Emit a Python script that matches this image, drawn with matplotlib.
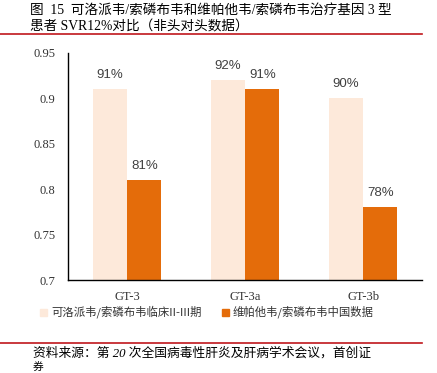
import numpy as np
import matplotlib
matplotlib.use("Agg")
import matplotlib.pyplot as plt
from matplotlib.patches import Rectangle
from matplotlib.lines import Line2D

groups = ["GT-3", "GT-3a", "GT-3b"]
clinical = [0.91, 0.92, 0.90]
china = [0.81, 0.91, 0.78]
labels_clinical = ["91%", "92%", "90%"]
labels_china = ["81%", "91%", "78%"]
yticks = [0.7, 0.75, 0.8, 0.85, 0.9, 0.95]
ytick_labels = ["0.7", "0.75", "0.8", "0.85", "0.9", "0.95"]
series_names = ["可洛派韦/索磷布韦临床II-III期", "维帕他韦/索磷布韦中国数据"]

c_light = "#FDE9DA"
c_orange = "#E46C0A"
red = "#C0161C"
serif_cjk = ["Liberation Serif", "Noto Sans CJK SC"]
sans_cjk = ["Noto Sans CJK SC", "DejaVu Sans"]

fig = plt.figure(figsize=(4.37, 3.73), dpi=100)
ax = fig.add_axes([0.156, 0.249, 0.81, 0.609])

x = np.arange(len(groups))
w = 0.29
ax.bar(x - w/2, clinical, w, color=c_light)
ax.bar(x + w/2, china, w, color=c_orange)
for xi, v, s in zip(x, clinical, labels_clinical):
    ax.text(xi - w/2, v + 0.009, s, ha="center", va="bottom", fontsize=9.5,
            color="#404040", family="Liberation Sans")
for xi, v, s in zip(x, china, labels_china):
    ax.text(xi + w/2, v + 0.009, s, ha="center", va="bottom", fontsize=9.5,
            color="#404040", family="Liberation Sans")

ax.set_xlim(-0.5, 2.5)
ax.set_ylim(0.7, 0.95)
ax.set_yticks(yticks)
ax.set_yticklabels(ytick_labels, family="Liberation Serif", fontsize=9, color="#333333")
ax.set_xticks(x)
ax.set_xticklabels(groups, family="Liberation Serif", fontsize=9, color="#333333")
ax.tick_params(length=0, pad=9)
ax.tick_params(axis="x", pad=8)
for sp in ["top", "right"]:
    ax.spines[sp].set_visible(False)
ax.spines["left"].set_linewidth(1)
ax.spines["bottom"].set_linewidth(1)

# title
fig.text(0.069, 1 - 10/373, "图  15  可洛派韦/索磷布韦和维帕他韦/索磷布韦治疗基因 3 型",
         ha="left", va="center", fontsize=9.8, family=serif_cjk)
fig.text(0.069, 1 - 27/373, "患者 SVR12%对比（非头对头数据）",
         ha="left", va="center", fontsize=9.8, family=serif_cjk)
fig.add_artist(Line2D([0, 422/437], [1 - 34/373] * 2, color=red, lw=1.2))

# legend
ly = 1 - 312/373
fig.add_artist(Rectangle((40/437, ly - 3.5/373), 7/437, 7/373, color=c_light))
fig.text(51/437, ly, series_names[0], ha="left", va="center", fontsize=8.2,
         family=sans_cjk, color="#333333")
fig.add_artist(Rectangle((222/437, ly - 3.5/373), 7/437, 7/373, color=c_orange))
fig.text(233/437, ly, series_names[1], ha="left", va="center", fontsize=8.2,
         family=sans_cjk, color="#333333")

# source
fig.add_artist(Line2D([0, 422/437], [1 - 343/373] * 2, color=red, lw=1.2))
fig.text(33/437, 1 - 353/373, "资料来源：第 20 次全国病毒性肝炎及肝病学术会议，首创证",
         ha="left", va="center", fontsize=9.2, family=serif_cjk, style="italic")
fig.text(33/437, 1 - 372.5/373, "券", ha="left", va="bottom", fontsize=7.8,
         family=serif_cjk, style="italic")

plt.savefig("out.png", dpi=100)
